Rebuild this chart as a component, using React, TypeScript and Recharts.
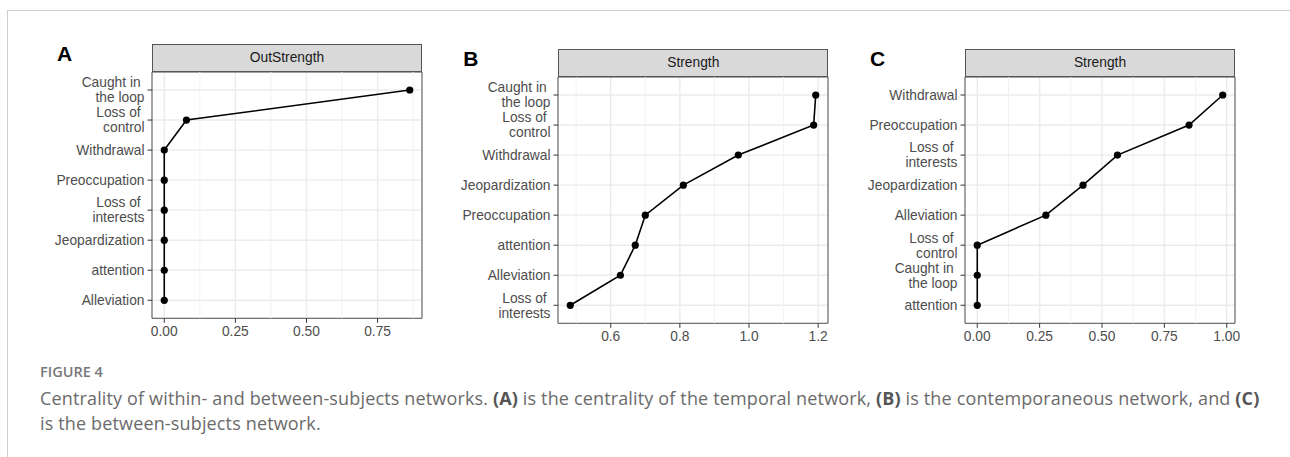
import React from "react";
import {
  LineChart,
  Line,
  XAxis,
  YAxis,
  CartesianGrid,
  ReferenceLine,
  ReferenceArea,
} from "recharts";

// Panel A - temporal network, OutStrength (top to bottom)
const A_LABELS = [
  "Caught in \nthe loop",
  "Loss of \ncontrol",
  "Withdrawal",
  "Preoccupation",
  "Loss of \ninterests",
  "Jeopardization",
  "attention",
  "Alleviation",
];
const A_VALUES = [0.863, 0.078, 0, 0, 0, 0, 0, 0];
const A_TICKS = [0, 0.25, 0.5, 0.75];
const A_MINOR = [0.125, 0.375, 0.625, 0.875];

// Panel B - contemporaneous network, Strength
const B_LABELS = [
  "Caught in \nthe loop",
  "Loss of \ncontrol",
  "Withdrawal",
  "Jeopardization",
  "Preoccupation",
  "attention",
  "Alleviation",
  "Loss of \ninterests",
];
const B_VALUES = [1.193, 1.187, 0.969, 0.81, 0.7, 0.671, 0.628, 0.483];
const B_TICKS = [0.6, 0.8, 1.0, 1.2];
const B_MINOR = [0.5, 0.7, 0.9, 1.1];

// Panel C - between-subjects network, Strength
const C_LABELS = [
  "Withdrawal",
  "Preoccupation",
  "Loss of \ninterests",
  "Jeopardization",
  "Alleviation",
  "Loss of \ncontrol",
  "Caught in \nthe loop",
  "attention",
];
const C_VALUES = [0.984, 0.849, 0.562, 0.424, 0.275, 0, 0, 0];
const C_TICKS = [0, 0.25, 0.5, 0.75, 1.0];
const C_MINOR = [0.125, 0.375, 0.625, 0.875];

const AXIS_FONT = "'Liberation Sans', Arial, sans-serif";
const CAPTION_FONT = "'Open Sans', 'Noto Sans', sans-serif";
const Y_AXIS_W = 150;

function CatTick(props: any) {
  const { x, y, payload, labels } = props;
  const label: string = labels[payload.value] || "";
  const lines = label.split("\n");
  const lh = 15;
  return (
    <text
      x={x}
      y={y}
      textAnchor="end"
      fill="#4d4d4d"
      fontSize={13.8}
      fontFamily={AXIS_FONT}
      style={{ whiteSpace: "pre" }}
    >
      {lines.map((l, i) => (
        <tspan key={i} x={x} dy={i === 0 ? -((lines.length - 1) * lh) / 2 + 4.8 : lh}>
          {l}
        </tspan>
      ))}
    </text>
  );
}

type PanelProps = {
  letter: string;
  title: string;
  labels: string[];
  values: number[];
  ticks: number[];
  minor: number[];
  digits: number;
  left: number;
  top: number;
  w: number;
  h: number;
};

function Panel({ letter, title, labels, values, ticks, minor, digits, left, top, w, h }: PanelProps) {
  // in vertical layout the numeric y axis runs top-down, so pos = row index
  const data = labels.map((name, i) => ({ name, pos: i, value: values[i] }));
  // ggplot-style 5% expansion of the data range
  const lo = Math.min(...values);
  const hi = Math.max(...values);
  const pad = (hi - lo) * 0.05;
  const xDomain = [lo - pad, hi + pad];
  const yDomain = [-0.6, labels.length - 0.4];
  const yTicks = labels.map((_, i) => i);

  return (
    <>
      <div
        style={{
          position: "absolute",
          left: left - 95,
          top: top - 30,
          fontFamily: AXIS_FONT,
          fontWeight: 700,
          fontSize: 21,
          color: "#000",
        }}
      >
        {letter}
      </div>
      <div
        style={{
          position: "absolute",
          left,
          top: top - 28,
          width: w,
          height: 28,
          boxSizing: "border-box",
          background: "#d9d9d9",
          border: "1px solid #555",
          fontFamily: AXIS_FONT,
          fontSize: 13.8,
          color: "#1a1a1a",
          textAlign: "center",
          lineHeight: "26px",
        }}
      >
        {title}
      </div>
      <div style={{ position: "absolute", left: left - Y_AXIS_W, top }}>
        <LineChart
          width={Y_AXIS_W + w + 12}
          height={h + 40}
          data={data}
          layout="vertical"
          margin={{ top: 0, right: 12, bottom: 0, left: 0 }}
        >
          <CartesianGrid stroke="#ebebeb" strokeWidth={1.4} />
          {minor.map((m) => (
            <ReferenceLine key={m} x={m} stroke="#f0f0f0" strokeWidth={0.9} ifOverflow="visible" />
          ))}
          <XAxis
            type="number"
            dataKey="value"
            domain={xDomain}
            allowDataOverflow
            ticks={ticks}
            interval={0}
            tickFormatter={(v: number) => v.toFixed(digits)}
            axisLine={false}
            tickLine={{ stroke: "#333" }}
            tickSize={4.5}
            tickMargin={3.5}
            height={40}
            tick={{ fill: "#4d4d4d", fontSize: 13.8, fontFamily: AXIS_FONT }}
          />
          <YAxis
            type="number"
            dataKey="pos"
            domain={yDomain}
            allowDataOverflow
            ticks={yTicks}
            interval={0}
            axisLine={false}
            tickLine={{ stroke: "#333" }}
            tickSize={4.5}
            tickMargin={3}
            width={Y_AXIS_W}
            tick={<CatTick labels={labels} />}
          />
          <ReferenceArea
            x1={xDomain[0]}
            x2={xDomain[1]}
            y1={yDomain[0]}
            y2={yDomain[1]}
            fill="none"
            stroke="#555"
            strokeWidth={1}
            ifOverflow="visible"
          />
          <Line
            type="linear"
            dataKey="value"
            stroke="#000"
            strokeWidth={1.6}
            dot={{ r: 3.6, fill: "#000", stroke: "#000", strokeWidth: 0 }}
            isAnimationActive={false}
          />
        </LineChart>
      </div>
    </>
  );
}

export default function App() {
  return (
    <div
      style={{
        position: "absolute",
        left: 0,
        top: 0,
        width: 1290,
        height: 457,
        background: "#fff",
        overflow: "hidden",
      }}
    >
      <div
        style={{
          position: "absolute",
          left: 7,
          top: 10,
          width: 1290,
          height: 460,
          borderLeft: "1.5px solid #cfcfcf",
          borderTop: "1.5px solid #cfcfcf",
        }}
      />
      <Panel
        letter="A"
        title="OutStrength"
        labels={A_LABELS}
        values={A_VALUES}
        ticks={A_TICKS}
        minor={A_MINOR}
        digits={2}
        left={152}
        top={72}
        w={270}
        h={246.3}
      />
      <Panel
        letter="B"
        title="Strength"
        labels={B_LABELS}
        values={B_VALUES}
        ticks={B_TICKS}
        minor={B_MINOR}
        digits={1}
        left={558.3}
        top={77}
        w={270}
        h={246.3}
      />
      <Panel
        letter="C"
        title="Strength"
        labels={C_LABELS}
        values={C_VALUES}
        ticks={C_TICKS}
        minor={C_MINOR}
        digits={2}
        left={965}
        top={77}
        w={270}
        h={246.3}
      />
      <div
        style={{
          position: "absolute",
          left: 40,
          top: 362,
          fontFamily: CAPTION_FONT,
          fontWeight: 600,
          fontSize: 14.5,
          color: "#777",
          lineHeight: "20px",
        }}
      >
        FIGURE 4
      </div>
      <div
        style={{
          position: "absolute",
          left: 40,
          top: 386,
          fontFamily: CAPTION_FONT,
          fontSize: 18,
          letterSpacing: 0.15,
          color: "#6b6b6b",
          lineHeight: "24.5px",
          whiteSpace: "nowrap",
        }}
      >
        Centrality of within- and between-subjects networks. <b style={{ color: "#555" }}>(A)</b> is
        the centrality of the temporal network, <b style={{ color: "#555" }}>(B)</b> is the
        contemporaneous network, and <b style={{ color: "#555" }}>(C)</b>
        <br />
        is the between-subjects network.
      </div>
    </div>
  );
}
